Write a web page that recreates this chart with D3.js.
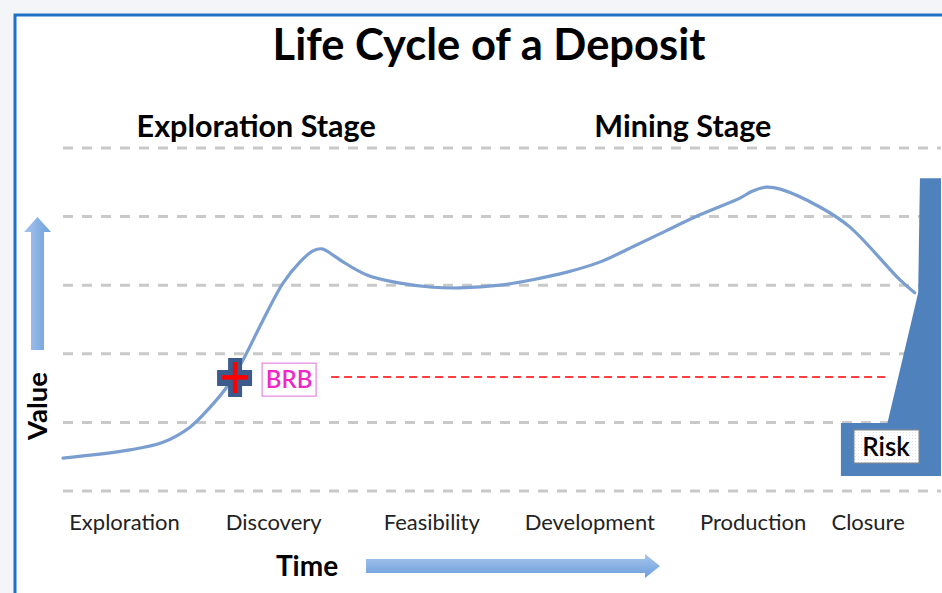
<!DOCTYPE html>
<html>
<head>
<meta charset="utf-8">
<script src="https://cdn.jsdelivr.net/npm/d3@7"></script>
<style>
  body { margin: 0; background: #f3f5f9; }
  svg { display: block; font-family: Lato, "Open Sans", sans-serif; }
</style>
</head>
<body>
<script>
// life cycle of a deposit - value vs time sketch

var width = 942, height = 593;

// time runs 0..100, value runs 0..5 (one unit per gridline)
var stages = ["Exploration", "Discovery", "Feasibility", "Development", "Production", "Closure"];
var stageTimes = [7, 24, 42, 60, 78.6, 91.7];
var phases = ["Exploration Stage", "Mining Stage"];
var phaseTimes = [22, 70.6];
var gridValues = [0, 1, 2, 3, 4, 5];

var curveTime  = [0, 7.63, 11.39, 14.46, 16.74, 18.68, 20.5, 22.78, 25.06, 27.0, 28.47, 29.5, 30.75, 31.9, 34.6, 38.4, 42.1, 45.2, 49.8, 53.5, 57.4, 61.2, 64.9, 68.8, 72.6, 77.1, 78.5, 80.1, 81.7, 86.2, 89.6, 95.3, 97.0];
var curveValue = [0.48, 0.60, 0.71, 0.93, 1.22, 1.52, 1.91, 2.49, 3.03, 3.34, 3.50, 3.53, 3.44, 3.34, 3.15, 3.03, 2.97, 2.96, 3.00, 3.08, 3.19, 3.34, 3.56, 3.80, 4.03, 4.27, 4.37, 4.43, 4.40, 4.14, 3.85, 3.08, 2.89];

var brbTime = 19.6, brbValue = 1.66, brbLineEnd = 93.9;

// risk profile outline (time, value)
var riskTime  = [88.6, 88.6, 93.9, 97.4, 97.6, 100, 100];
var riskValue = [0.22, 0.99, 0.99, 2.89, 4.56, 4.56, 0.22];

var x = d3.scaleLinear().domain([0, 100]).range([63, 941]);
var y = d3.scaleLinear().domain([0, 5]).range([491, 148]);

var svg = d3.select("body").append("svg")
    .attr("width", width)
    .attr("height", height);

var defs = svg.append("defs");
var gv = defs.append("linearGradient").attr("id", "arrowV")
    .attr("x1", 0).attr("x2", 1).attr("y1", 0).attr("y2", 0);
gv.append("stop").attr("offset", "0%").attr("stop-color", "#a6c5ec");
gv.append("stop").attr("offset", "100%").attr("stop-color", "#6d9fdc");
var gh = defs.append("linearGradient").attr("id", "arrowH")
    .attr("x1", 0).attr("x2", 0).attr("y1", 0).attr("y2", 1);
gh.append("stop").attr("offset", "0%").attr("stop-color", "#a6c5ec");
gh.append("stop").attr("offset", "100%").attr("stop-color", "#6d9fdc");
var dots = defs.append("pattern").attr("id", "dots")
    .attr("width", 3).attr("height", 3).attr("patternUnits", "userSpaceOnUse");
dots.append("rect").attr("width", 3).attr("height", 3).attr("fill", "#fff");
dots.append("rect").attr("width", 1).attr("height", 1).attr("fill", "#dfe6f0");

// page + frame
svg.append("rect")
    .attr("x", 15).attr("y", 15)
    .attr("width", width).attr("height", height)
    .attr("fill", "#fff")
    .attr("stroke", "#1f72c3")
    .attr("stroke-width", 3);

svg.append("text")
    .attr("x", 489).attr("y", 60)
    .attr("text-anchor", "middle")
    .style("font-size", "43.5px")
    .style("font-weight", "bold")
    .text("Life Cycle of a Deposit");

svg.selectAll(".phase")
  .data(phases)
  .enter().append("text")
    .attr("class", "phase")
    .attr("x", function(d, i) { return x(phaseTimes[i]); })
    .attr("y", 137)
    .attr("text-anchor", "middle")
    .style("font-size", "30.5px")
    .style("font-weight", "bold")
    .text(function(d) { return d; });

// dashed gridlines
svg.selectAll(".grid")
  .data(gridValues)
  .enter().append("line")
    .attr("class", "grid")
    .attr("x1", x(0)).attr("x2", x(100))
    .attr("y1", function(d) { return y(d); })
    .attr("y2", function(d) { return y(d); })
    .attr("stroke", "#c9c9c9")
    .attr("stroke-width", 3)
    .attr("stroke-dasharray", "10,9");

// risk shape
svg.append("path")
    .attr("d", d3.line()(riskTime.map(function(t, i) { return [x(t), y(riskValue[i])]; })) + "Z")
    .attr("fill", "#4f81bd");

// value curve
var line = d3.line()
    .x(function(d) { return x(d[0]); })
    .y(function(d) { return y(d[1]); })
    .curve(d3.curveCatmullRom.alpha(0.5));

svg.append("path")
    .datum(curveTime.map(function(t, i) { return [t, curveValue[i]]; }))
    .attr("d", line)
    .attr("fill", "none")
    .attr("stroke", "#7a9ecf")
    .attr("stroke-width", 3.2)
    .attr("stroke-linecap", "round");

// BRB line
svg.append("line")
    .attr("x1", x(brbTime) + 96).attr("x2", x(brbLineEnd))
    .attr("y1", y(brbValue)).attr("y2", y(brbValue))
    .attr("stroke", "#f00")
    .attr("stroke-width", 1.5)
    .attr("stroke-dasharray", "8,5");

// cross marker
var cx = x(brbTime), cy = y(brbValue);
var marker = svg.append("g").attr("transform", "translate(" + cx + "," + cy + ")");
marker.append("path")
    .attr("d", "M-7,-19H7V-7H17V9H7V20H-7V9H-18V-7H-7Z")
    .attr("fill", "#3b5b8c");
marker.append("rect").attr("x", -13).attr("y", -2).attr("width", 26).attr("height", 4.5).attr("fill", "#f00");
marker.append("rect").attr("x", -2.2).attr("y", -15).attr("width", 4.5).attr("height", 31).attr("fill", "#f00");

svg.append("rect")
    .attr("x", cx + 27).attr("y", cy - 14)
    .attr("width", 54).attr("height", 33)
    .attr("fill", "#fff")
    .attr("stroke", "#e070d8")
    .attr("stroke-width", 1);
svg.append("text")
    .attr("x", cx + 54).attr("y", cy + 11)
    .attr("text-anchor", "middle")
    .style("font-size", "24px")
    .style("font-weight", "600")
    .attr("fill", "#ee28c8")
    .text("BRB");

// risk label
svg.append("rect")
    .attr("x", 854).attr("y", 430)
    .attr("width", 65).attr("height", 33)
    .attr("fill", "url(#dots)")
    .attr("stroke", "#888")
    .attr("stroke-width", 1);
svg.append("text")
    .attr("x", 886).attr("y", 456)
    .attr("text-anchor", "middle")
    .style("font-size", "26px")
    .style("font-weight", "600")
    .text("Risk");

// stage labels on time axis
svg.selectAll(".stage")
  .data(stages)
  .enter().append("text")
    .attr("class", "stage")
    .attr("x", function(d, i) { return x(stageTimes[i]); })
    .attr("y", 530)
    .attr("text-anchor", "middle")
    .style("font-size", "22px")
    .attr("fill", "#222")
    .text(function(d) { return d; });

// value arrow
svg.append("path")
    .attr("d", "M31,350V232H24L37.5,217L51,232H44V350Z")
    .attr("fill", "url(#arrowV)");
svg.append("text")
    .attr("transform", "translate(47,406) rotate(-90)")
    .attr("text-anchor", "middle")
    .style("font-size", "27.5px")
    .style("font-weight", "bold")
    .text("Value");

// time arrow
svg.append("path")
    .attr("d", "M366,559H645V554L660,566L645,578V573H366Z")
    .attr("fill", "url(#arrowH)");
svg.append("text")
    .attr("x", 307).attr("y", 576)
    .attr("text-anchor", "middle")
    .style("font-size", "28px")
    .style("font-weight", "bold")
    .text("Time");
</script>
</body>
</html>
